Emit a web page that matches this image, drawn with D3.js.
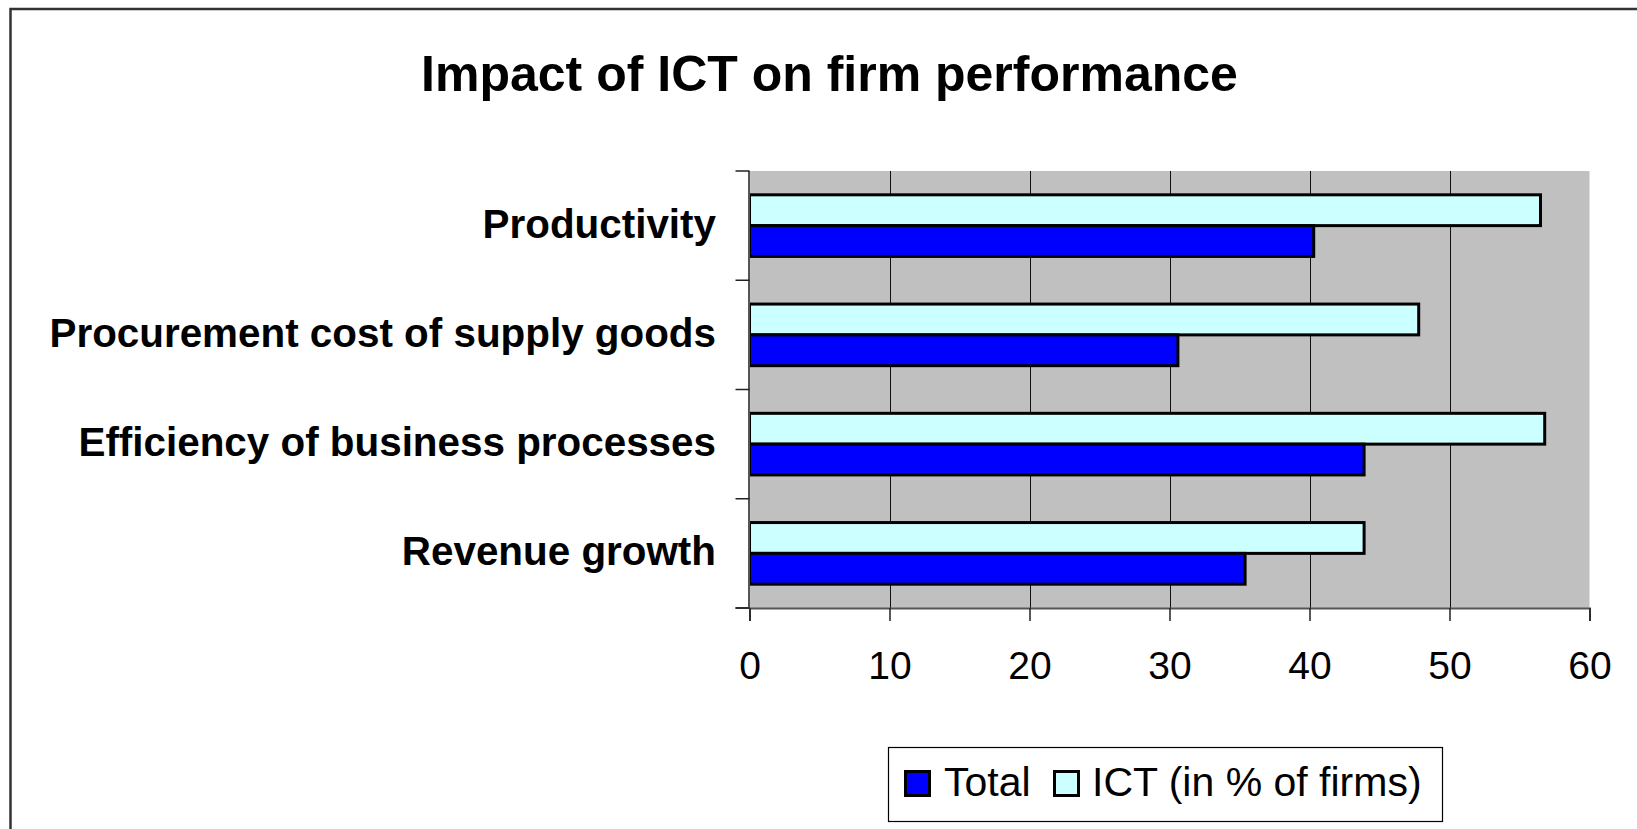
<!DOCTYPE html>
<html>
<head>
<meta charset="utf-8">
<script src="https://cdn.jsdelivr.net/npm/d3@7"></script>
<style>
  html, body { margin: 0; padding: 0; background: #fff; }
  svg { display: block; font-family: "Liberation Sans", Arial, sans-serif; }
</style>
</head>
<body>
<svg id="chart" width="1637" height="829"></svg>
<script>
// ---- data ----
const title = "Impact of ICT on firm performance";
const categories = ["Productivity", "Procurement cost of supply goods", "Efficiency of business processes", "Revenue growth"];
const seriesNames = ["ICT (in % of firms)", "Total"];
const ictValues = [56.5, 47.8, 56.8, 43.9];
const totalValues = [40.3, 30.6, 43.9, 35.4];
const xTicks = [0, 10, 20, 30, 40, 50, 60];
const legendOrder = ["Total", "ICT (in % of firms)"];
const seriesColors = { "Total": "#0000FF", "ICT (in % of firms)": "#CCFFFF" };

// ---- layout ----
const svg = d3.select("#chart");
const plot = { left: 749.5, right: 1589.5, top: 171, bottom: 608 };

// outer border (extends beyond right/bottom edges)
svg.append("rect").attr("x", 10.5).attr("y", 9).attr("width", 1700).attr("height", 900)
  .attr("fill", "#fff").attr("stroke", "#333").attr("stroke-width", 2.5);

// title
svg.append("text").attr("x", 829.5).attr("y", 91).attr("text-anchor", "middle")
  .attr("font-size", 50).attr("font-weight", "bold").attr("fill", "#000").text(title);

const x = d3.scaleLinear().domain([0, 60]).range([plot.left, plot.right]);
const y = d3.scaleBand().domain(categories).range([plot.top, plot.bottom])
  .paddingInner(0.436).paddingOuter(0.218);
const yInner = d3.scaleBand().domain(seriesNames).range([0, y.bandwidth()]).padding(0);
const yCat = d3.scaleBand().domain(categories).range([plot.top, plot.bottom]);

// plot background
svg.append("rect").attr("x", plot.left).attr("y", plot.top)
  .attr("width", plot.right - plot.left).attr("height", plot.bottom - plot.top)
  .attr("fill", "#C0C0C0");

// gridlines
svg.append("g").selectAll("line").data(xTicks.filter(d => d > 0 && d < 60)).join("line")
  .attr("x1", d => Math.round(x(d)) + 0.5).attr("x2", d => Math.round(x(d)) + 0.5)
  .attr("y1", plot.top).attr("y2", plot.bottom)
  .attr("stroke", "#111").attr("stroke-width", 1);

// bars
const rows = categories.map((c, i) => ({ cat: c, vals: [
  { s: "ICT (in % of firms)", v: ictValues[i] },
  { s: "Total", v: totalValues[i] } ] }));
const g = svg.append("g");
rows.forEach(r => {
  r.vals.forEach(d => {
    g.append("rect")
      .attr("x", x(0)).attr("y", y(r.cat) + yInner(d.s))
      .attr("width", x(d.v) - x(0)).attr("height", yInner.bandwidth())
      .attr("fill", seriesColors[d.s]).attr("stroke", "#000").attr("stroke-width", 3);
  });
});

// x axis
const xAxis = d3.axisBottom(x).tickValues(xTicks).tickSize(13).tickPadding(30).tickFormat(d3.format("d"));
const xg = svg.append("g").attr("transform", `translate(0,${plot.bottom})`).call(xAxis);
xg.select(".domain").attr("stroke", "#555").attr("stroke-width", 2);
xg.selectAll(".tick line").attr("stroke", "#222").attr("stroke-width", 1.5);
xg.selectAll(".tick text").attr("font-size", 39).attr("fill", "#000")
  .attr("font-family", "'Liberation Sans', Arial, sans-serif");
svg.append("line").attr("x1", plot.left - 14).attr("x2", plot.left)
  .attr("y1", plot.bottom).attr("y2", plot.bottom).attr("stroke", "#555").attr("stroke-width", 2);

// y axis: line and ticks at category boundaries
svg.append("line").attr("x1", plot.left - 0.5).attr("x2", plot.left - 0.5)
  .attr("y1", plot.top).attr("y2", plot.bottom).attr("stroke", "#555").attr("stroke-width", 2);
const boundaries = categories.map(c => yCat(c)).concat([plot.bottom]);
svg.append("g").selectAll("line").data(boundaries).join("line")
  .attr("x1", plot.left - 14).attr("x2", plot.left)
  .attr("y1", d => d).attr("y2", d => d)
  .attr("stroke", "#222").attr("stroke-width", 1.5);

// category labels
svg.append("g").selectAll("text").data(categories).join("text")
  .attr("x", 716).attr("y", d => yCat(d) + yCat.bandwidth() / 2 + 12)
  .attr("text-anchor", "end").attr("font-size", 40.4).attr("font-weight", "bold")
  .attr("fill", "#000").text(d => d);

// legend
const lg = svg.append("g");
lg.append("rect").attr("x", 888.5).attr("y", 747.5).attr("width", 554).attr("height", 74)
  .attr("fill", "#fff").attr("stroke", "#000").attr("stroke-width", 1.2);
const legendItems = [
  { sx: 905.5, tx: 944 },
  { sx: 1054.5, tx: 1092 }
];
legendItems.forEach((it, i) => {
  const name = legendOrder[i];
  lg.append("rect").attr("x", it.sx).attr("y", 771.5).attr("width", 24).attr("height", 24)
    .attr("fill", seriesColors[name]).attr("stroke", "#000").attr("stroke-width", 3);
  lg.append("text").attr("x", it.tx).attr("y", 796).attr("font-size", 41)
    .attr("fill", "#000").text(name);
});
</script>
</body>
</html>
